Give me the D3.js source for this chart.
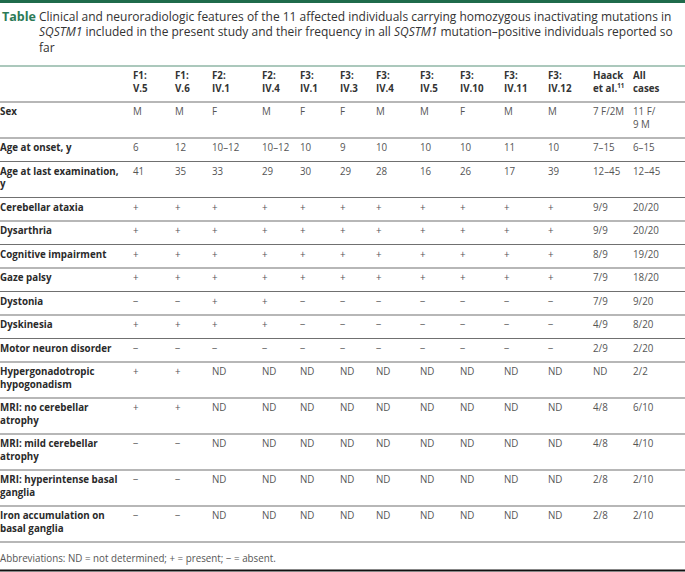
<!DOCTYPE html>
<html>
<head>
<meta charset="utf-8">
<script src="https://cdn.jsdelivr.net/npm/d3@7"></script>
<style>
  body { margin: 0; background: #fff; }
  text { font-family: "Open Sans", sans-serif; }
</style>
</head>
<body>
<div id="table"></div>
<script>
var width = 685, height = 572;

// title lines
var titleLines = [
  [{t: "Clinical and neuroradiologic features of the 11 affected individuals carrying homozygous inactivating mutations in"}],
  [{t: "SQSTM1", i: true}, {t: " included in the present study and their frequency in all "}, {t: "SQSTM1", i: true}, {t: " mutation\u2013positive individuals reported so"}],
  [{t: "far"}]
];

// column headers (each as lines)
var columns = [
  ["F1:", "V.5"], ["F1:", "V.6"], ["F2:", "IV.1"], ["F2:", "IV.4"], ["F3:", "IV.1"],
  ["F3:", "IV.3"], ["F3:", "IV.4"], ["F3:", "IV.5"], ["F3:", "IV.10"], ["F3:", "IV.11"],
  ["F3:", "IV.12"], ["Haack", "et al."], ["All", "cases"]
];

var rowLabels = [
  ["Sex"],
  ["Age at onset, y"],
  ["Age at last examination,", "y"],
  ["Cerebellar ataxia"],
  ["Dysarthria"],
  ["Cognitive impairment"],
  ["Gaze palsy"],
  ["Dystonia"],
  ["Dyskinesia"],
  ["Motor neuron disorder"],
  ["Hypergonadotropic", "hypogonadism"],
  ["MRI: no cerebellar", "atrophy"],
  ["MRI: mild cerebellar", "atrophy"],
  ["MRI: hyperintense basal", "ganglia"],
  ["Iron accumulation on", "basal ganglia"]
];

var P = "+", A = "\u2212", ND = "ND";
var values = [
  ["M", "M", "F", "M", "F", "F", "M", "M", "F", "M", "M", "7 F/2M", "11 F/\n9 M"],
  ["6", "12", "10\u201312", "10\u201312", "10", "9", "10", "10", "10", "11", "10", "7\u201315", "6\u201315"],
  ["41", "35", "33", "29", "30", "29", "28", "16", "26", "17", "39", "12\u201345", "12\u201345"],
  [P, P, P, P, P, P, P, P, P, P, P, "9/9", "20/20"],
  [P, P, P, P, P, P, P, P, P, P, P, "9/9", "20/20"],
  [P, P, P, P, P, P, P, P, P, P, P, "8/9", "19/20"],
  [P, P, P, P, P, P, P, P, P, P, P, "7/9", "18/20"],
  [A, A, P, P, A, A, A, A, A, A, A, "7/9", "9/20"],
  [P, P, P, P, A, A, A, A, A, A, A, "4/9", "8/20"],
  [A, A, A, A, A, A, A, A, A, A, A, "2/9", "2/20"],
  [P, P, ND, ND, ND, ND, ND, ND, ND, ND, ND, ND, "2/2"],
  [P, P, ND, ND, ND, ND, ND, ND, ND, ND, ND, "4/8", "6/10"],
  [A, A, ND, ND, ND, ND, ND, ND, ND, ND, ND, "4/8", "4/10"],
  [A, A, ND, ND, ND, ND, ND, ND, ND, ND, ND, "2/8", "2/10"],
  [A, A, ND, ND, ND, ND, ND, ND, ND, ND, ND, "2/8", "2/10"]
];

var footnote = "Abbreviations: ND = not determined; + = present; \u2212 = absent.";

// layout
var colX = [133, 175, 212, 262, 300, 340, 376, 420, 460, 504, 548, 593, 633];
var tableTop = 66, lineH = 12.5, pad = 11, fs = 10.3;
var sx = 0.95; // slight horizontal squeeze, the source face is a bit narrower

var svg = d3.select("#table").append("svg")
    .attr("width", width)
    .attr("height", height);

// top green band
svg.append("rect").attr("x", 0).attr("y", 0).attr("width", width).attr("height", 3).attr("fill", "#1f6b4b");

function squeezeAt(sel, s) {
  sel.attr("transform", function() {
    var x = +this.getAttribute("x");
    return "translate(" + x + ",0) scale(" + s + ",1) translate(" + (-x) + ",0)";
  });
}

// title
var title = svg.append("g");
title.append("text")
    .attr("x", 2).attr("y", 21)
    .attr("font-size", 12.5).attr("font-weight", 700).attr("fill", "#2b7a57")
    .text("Table");
var tlines = titleLines.map(function(parts, i) {
  var t = title.append("text")
      .attr("x", 39).attr("y", 21 + i * 15.5)
      .attr("font-size", 13).attr("fill", "#333");
  parts.forEach(function(p) {
    t.append("tspan").attr("font-style", p.i ? "italic" : null).text(p.t);
  });
  return t;
});
// fit first title line to its width in the picture
var tsx = 633 / tlines[0].node().getComputedTextLength();
tlines.forEach(function(t) { squeezeAt(t, tsx); });

// header rule
svg.append("line").attr("x1", 0).attr("x2", width).attr("y1", tableTop).attr("y2", tableTop)
    .attr("stroke", "#8fb6a6").attr("stroke-width", 1.5);

// row heights
function rowH(n) { return pad + lineH * n; }
var rows = [{h: rowH(2)}];
rowLabels.forEach(function(lab, i) {
  var n = d3.max([lab.length].concat(values[i].map(function(v) { return v.split("\n").length; })));
  rows.push({h: rowH(n), i: i});
});
var yPos = [tableTop];
rows.forEach(function(r) { yPos.push(yPos[yPos.length - 1] + r.h); });

function cell(g, x, top, lines, opts) {
  lines.forEach(function(line, m) {
    var t = g.append("text")
        .attr("x", x).attr("y", top + 13.5 + m * lineH)
        .attr("font-size", fs)
        .attr("font-weight", opts.bold ? 700 : null)
        .attr("fill", opts.fill)
        .text(line);
    if (opts.sup && m === lines.length - 1) {
      t.append("tspan").attr("dy", -3.5).attr("font-size", 6.5).text(opts.sup);
    }
  });
}

// header
var head = svg.append("g");
columns.forEach(function(c, j) {
  cell(head, colX[j], yPos[0], c, {bold: true, fill: "#333", sup: j === 11 ? "11" : null});
});
squeezeAt(head.selectAll("text"), sx);

// body rows
var body = svg.append("g");
rows.slice(1).forEach(function(r, k) {
  var top = yPos[k + 1];
  cell(body, 0, top, rowLabels[r.i], {bold: true, fill: "#2a2a2a"});
  values[r.i].forEach(function(v, j) {
    cell(body, colX[j], top, v.split("\n"), {fill: "#555"});
  });
});
squeezeAt(body.selectAll("text"), sx);

// row separators
svg.append("g").selectAll("line")
  .data(yPos.slice(1))
  .enter()
  .append("line")
    .attr("x1", 0).attr("x2", width)
    .attr("y1", function(d) { return d; })
    .attr("y2", function(d) { return d; })
    .attr("stroke", "#707070")
    .attr("stroke-width", 1.2);

// footnote
var foot = svg.append("text")
    .attr("x", 0).attr("y", yPos[yPos.length - 1] + 20)
    .attr("font-size", fs).attr("fill", "#555")
    .text(footnote);
squeezeAt(foot, sx);

// bottom rule
svg.append("line").attr("x1", 0).attr("x2", width).attr("y1", 570.5).attr("y2", 570.5)
    .attr("stroke", "#111").attr("stroke-width", 2);
</script>
</body>
</html>
